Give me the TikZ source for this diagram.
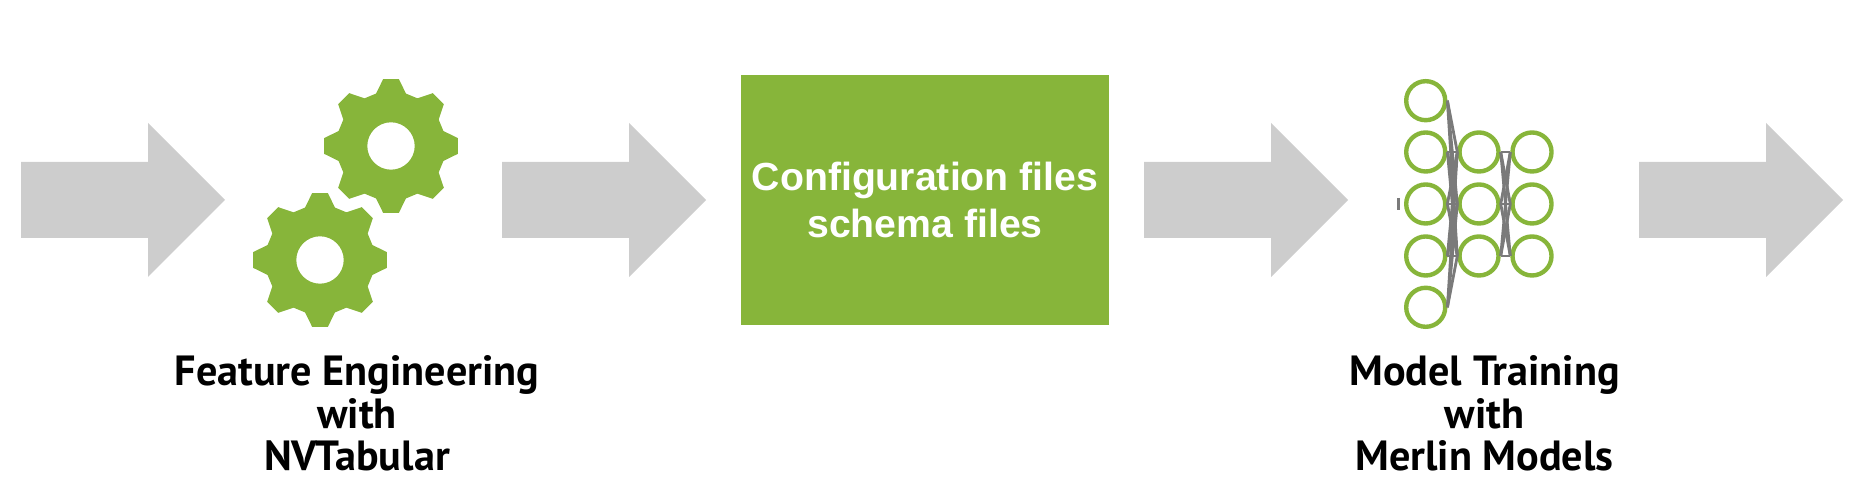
\documentclass[tikz,border=0pt]{standalone}
\usepackage{fontspec}
\setmainfont{Liberation Sans}
\newfontfamily\labelfont{PT Sans}
\definecolor{leafgreen}{HTML}{87B53A}
\definecolor{arrowgray}{HTML}{CDCDCD}
\definecolor{wiregray}{HTML}{7A7A7A}
\tikzset{
    configbox/.style={fill=leafgreen, text=white, align=center,
        minimum width=3.68cm, minimum height=2.5cm, inner sep=0pt,
        font=\fontsize{11.15}{13.3}\selectfont\bfseries},
    steplabel/.style={align=center, text=black, inner sep=0pt,
        font=\fontsize{12}{12.1}\labelfont\bfseries},
    neuron/.style={circle, draw=leafgreen, fill=white, line width=1.25pt,
        minimum size=0.39cm, inner sep=0pt},
    wire/.style={wiregray, line width=0.8pt},
    gearicon/.pic={
        \fill[leafgreen, even odd rule] (-16:54.5)
            \foreach \a in {0,45,...,315} {
                -- ({\a-16}:54.5) -- ({\a-6.7}:67.3) -- ({\a+6.7}:67.3) -- ({\a+16}:54.5)
            } -- cycle (0,0) circle (23.7);
    }
}

\begin{document}
\begin{tikzpicture}[x=0.01cm, y=-0.01cm]
        \useasboundingbox (0,0) rectangle (1858,498);

        % Block arrows
        \foreach \x in {21,502,1144,1639}
            \fill[arrowgray] (\x,162) -- ({\x+127},162) -- ({\x+127},123) -- ({\x+204},200)
                -- ({\x+127},277) -- ({\x+127},238) -- (\x,238) -- cycle;

        % Gears
        \pic (gearup) at (391,146) {gearicon};
        \pic (geardown) at (320,260) {gearicon};

        % Configuration box
        \node[configbox] (config) at (925,200) {Configuration files\\schema files};

        % Wire end points, the neurons are drawn over the wires
        \foreach \i/\y in {1/100.7,2/152,3/204,4/256,5/307.3}
            \node[neuron] (a\i) at (1425.7,\y) {};
        \foreach \i/\y in {1/152,2/204,3/256} {
            \node[neuron] (b\i) at (1479,\y) {};
            \node[neuron] (c\i) at (1532,\y) {};
        }

        % Wires between the columns
        \foreach \i in {1,...,5}
            \foreach \j in {1,2,3}
                \draw[wire] (a\i.east) -- (b\j.west);
        \foreach \i in {1,2,3}
            \foreach \j in {1,2,3}
                \draw[wire] (b\i.east) -- (c\j.west);

        % Stub left of the middle neuron
        \draw[wire] ([xshift=-1.5]a3.west) ++(0,-6) coordinate (stubtop) -- ++(0,12) coordinate (stubend);

        % Labels
        \node[steplabel] (featurelabel) at (357,413.5) {Feature Engineering\\with\\NVTabular};
        \node[steplabel] (modellabel) at (1484.5,413.5) {Model Training\\with\\Merlin Models};
\end{tikzpicture}
\end{document}
